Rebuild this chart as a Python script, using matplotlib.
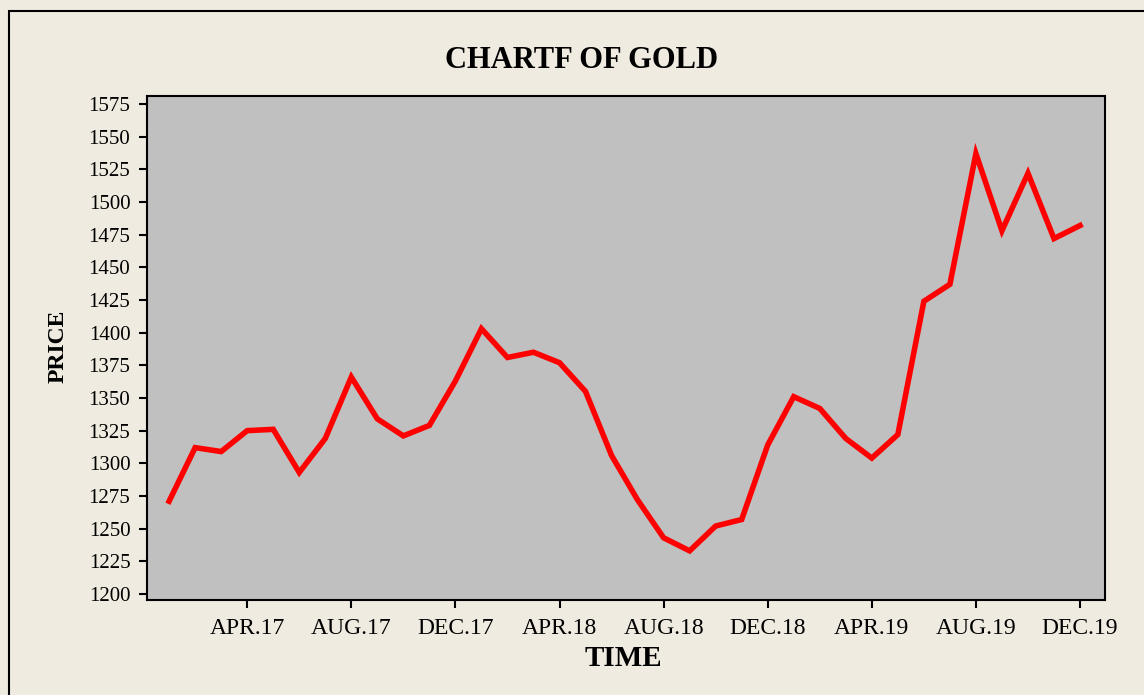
import numpy as np
import matplotlib.pyplot as plt
from matplotlib.patches import Rectangle

plt.rcParams['font.family'] = ['Liberation Serif', 'DejaVu Serif']

# monthly gold price, jan 2017 - dec 2019
price = [1271, 1312, 1309, 1325, 1326, 1293, 1319, 1366, 1334, 1321, 1329, 1363,
         1403, 1381, 1385, 1377, 1355, 1306, 1272, 1243, 1233, 1252, 1257, 1314,
         1351, 1342, 1319, 1304, 1322, 1424, 1437, 1537, 1478, 1522, 1472, 1482]
tick_pos = [3, 7, 11, 15, 19, 23, 27, 31, 35]
tick_lab = ['APR.17', 'AUG.17', 'DEC.17', 'APR.18', 'AUG.18', 'DEC.18',
            'APR.19', 'AUG.19', 'DEC.19']
yticks = list(range(1200, 1576, 25))

bg = '#efebe1'
fig = plt.figure(figsize=(11.44, 6.95), dpi=100, facecolor=bg)
fig.patches.append(Rectangle((9/1144, -0.01), 1.02, 1 - 11/695 + 0.01,
                             transform=fig.transFigure, fill=False,
                             edgecolor='black', linewidth=1.5))

ax = fig.add_axes([147/1144, 1 - 600/695, (1105 - 147)/1144, (600 - 96)/695])
ax.set_facecolor('#c0c0c0')
ax.plot(np.arange(len(price)), price, color='red', lw=4, solid_joinstyle='miter')

ax.set_xlim(-0.85, 35.96)
ax.set_ylim(1195.4, 1581.1)
ax.set_xticks(tick_pos)
ax.set_xticklabels(tick_lab)
ax.set_yticks(yticks)
ax.tick_params(direction='out', length=6, width=1.5, pad=6)
ax.tick_params(axis='x', labelsize=17, pad=7)
ax.tick_params(axis='y', labelsize=15)
for s in ax.spines.values():
    s.set_linewidth(1.5)

fig.text(582/1144, 1 - 61/695, 'CHARTF OF GOLD', ha='center', va='center',
         fontsize=22, fontweight='bold')
fig.text(623/1144, 1 - 659/695, 'TIME', ha='center', va='center',
         fontsize=21, fontweight='bold')
fig.text(58/1144, 1 - 346/695, 'PRICE', ha='center', va='center', rotation=90,
         fontsize=17, fontweight='bold')

fig.savefig('out.png', dpi=100, facecolor=bg)
